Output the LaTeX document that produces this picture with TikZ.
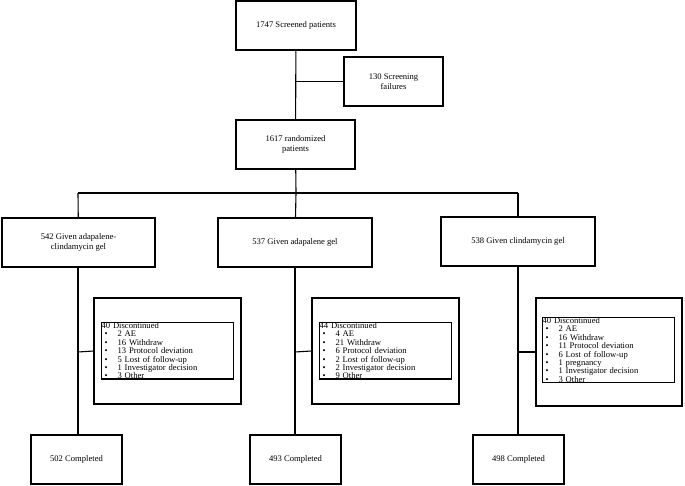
\documentclass[tikz,border=0pt]{standalone}
\usepackage{fontspec}
\setmainfont{Liberation Serif}
\begin{document}
\begin{tikzpicture}[x=1pt,y=-1pt,
 bx/.style={draw,line width=1.1pt,align=center,font=\fontsize{8.6}{10}\selectfont,inner sep=0pt},
 ln/.style={line width=1.1pt},
 lst/.style={draw,line width=1.1pt,align=left,font=\fontsize{8.6}{8.4}\selectfont,inner sep=0pt,text width=132pt,anchor=north west}]
\useasboundingbox (0,0) rectangle (685,486);
\node[bx,minimum width=120pt,minimum height=49pt] (s) at (296,25.5) {1747 Screened patients};
\node[bx,minimum width=99pt,minimum height=49pt] (f) at (393.5,81.5) {130 Screening\\failures};
\node[bx,minimum width=119pt,minimum height=49pt] (r) at (295.5,144.5) {1617 randomized\\patients};
\node[bx,minimum width=153pt,minimum height=49pt] (a) at (78.5,242.5) {542 Given adapalene-\\clindamycin gel};
\node[bx,minimum width=154pt,minimum height=49pt] (b) at (295,242.5) {537 Given adapalene gel};
\node[bx,minimum width=154pt,minimum height=49pt] (c) at (518,241.5) {538 Given clindamycin gel};
\newcommand{\bl}{\hspace*{3pt}\textbullet\hspace{10pt}}
\node[draw,line width=1.1pt,minimum width=147pt,minimum height=106pt] (da) at (167.5,351) {};
\node[draw,line width=1.1pt,minimum width=147pt,minimum height=106pt] (db) at (385.5,351) {};
\node[draw,line width=1.1pt,minimum width=146pt,minimum height=108pt] (dc) at (609,352) {};
\node[lst] (ta) at (101,322) {40 Discontinued\\\bl 2 AE\\\bl 16 Withdraw\\\bl 13 Protocol deviation\\\bl 5 Lost of follow-up\\\bl 1 Investigator decision\\\bl 3 Other};
\node[lst] (tb) at (319,322) {44 Discontinued\\\bl 4 AE\\\bl 21 Withdraw\\\bl 6 Protocol deviation\\\bl 2 Lost of follow-up\\\bl 2 Investigator decision\\\bl 9 Other};
\node[lst] (tc) at (542,317) {40 Discontinued\\\bl 2 AE\\\bl 16 Withdraw\\\bl 11 Protocol deviation\\\bl 6 Lost of follow-up\\\bl 1 pregnancy\\\bl 1 Investigator decision\\\bl 3 Other};
\node[bx,minimum width=91pt,minimum height=49pt] (ca) at (76.5,459.5) {502 Completed};
\node[bx,minimum width=91pt,minimum height=49pt] (cb) at (295.5,459.5) {493 Completed};
\node[bx,minimum width=91pt,minimum height=49pt] (cc) at (518.5,459.5) {498 Completed};
\coordinate (j1) at (296,81.5);
\coordinate (j2) at (296,193);
\coordinate (ja) at (78,193);
\coordinate (jc) at (518,193);
\draw[ln] (s) -- (r);
\draw[ln] (j1) -- (f);
\draw[ln] (r) -- (j2);
\draw[ln] (ja) -- (jc);
\draw[ln] (ja) -- (a);
\draw[ln] (j2) -- (b);
\draw[ln] (jc) -- (c);
\draw[ln] (a.south -| ja) -- (ca.north -| ja);
\draw[ln] (b.south) -- (b.south |- cb.north);
\draw[ln] (c.south) -- (c.south |- cc.north);
\draw[ln] (78,352) -- (da.west);
\draw[ln] (295,352) -- (db.west);
\draw[ln] (518,352) -- (dc.west);
\end{tikzpicture}
\end{document}
